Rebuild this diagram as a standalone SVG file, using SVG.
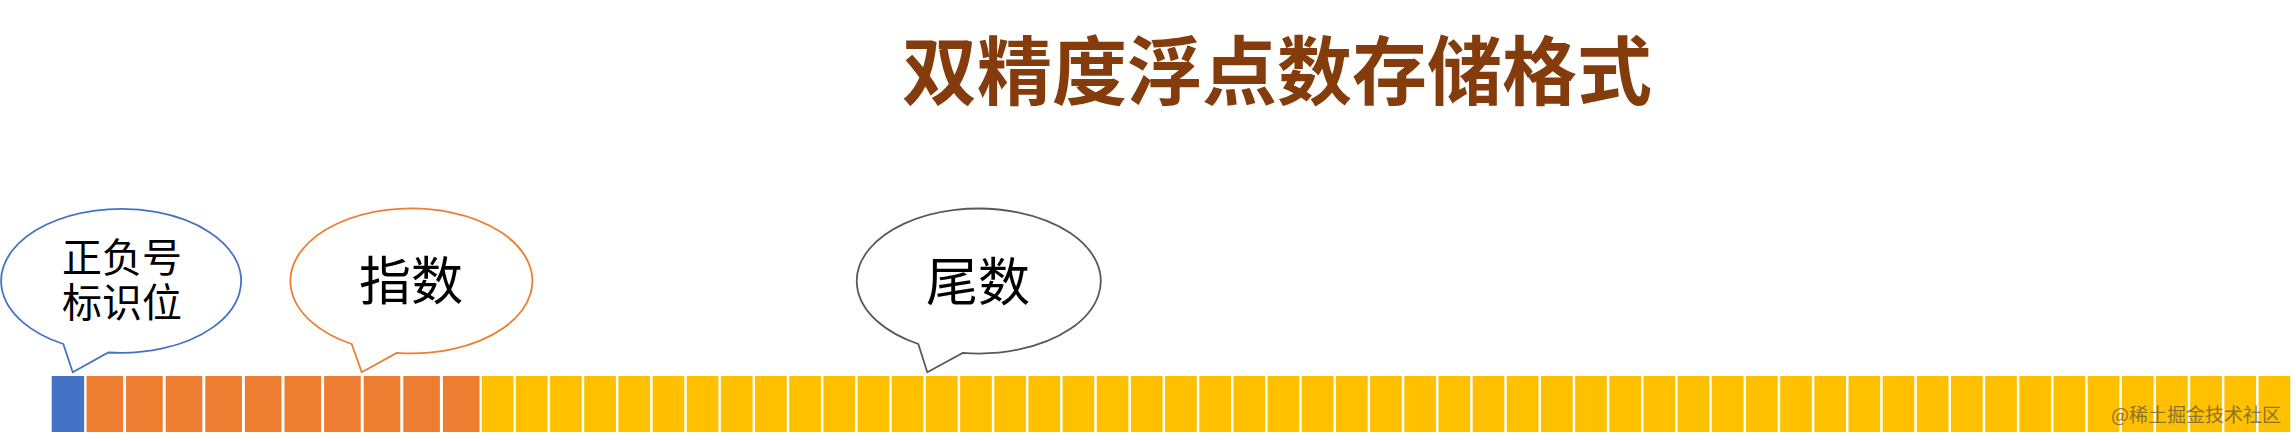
<svg xmlns="http://www.w3.org/2000/svg" width="2296" height="441" viewBox="0 0 2296 441">
<style>
text{font-family:"Noto Sans CJK SC","Noto Sans",sans-serif;}
.title{font-size:75px;font-weight:bold;fill:#843C0C;}
.lbl{fill:#000;}
.bub{fill:#fff;stroke-width:1.8;stroke-linejoin:miter;}
.s{fill:#4472C4;}
.e{fill:#ED7D31;}
.m{fill:#FFC000;}
.wm{font-size:19px;fill:#4a4a4a;opacity:0.65;}
</style>
<rect width="2296" height="441" fill="#fff"/>
<text class="title" x="1277" y="99" text-anchor="middle">双精度浮点数存储格式</text>
<g id="bubble-sign">
<path class="bub" stroke="#4472C4" d="M63.3,344 L72.7,372.3 L108.3,352.5 A120 72 0 1 0 63.3,344 Z"/>
<text class="lbl" font-size="40" text-anchor="middle"><tspan x="122" y="272">正负号</tspan><tspan x="122" y="317">标识位</tspan></text>
</g>
<g id="bubble-exponent">
<path class="bub" stroke="#ED7D31" d="M351.7,344 L361.7,372.3 L396.7,352.9 A121 72.5 0 1 0 351.7,344 Z"/>
<text class="lbl" x="411" y="300" font-size="52" text-anchor="middle">指数</text>
</g>
<g id="bubble-mantissa">
<path class="bub" stroke="#595959" d="M918.3,344 L927.3,372.3 L962.7,352.9 A122 72.5 0 1 0 918.3,344 Z"/>
<text class="lbl" x="978" y="301" font-size="52" text-anchor="middle">尾数</text>
</g>
<g id="bits">
<rect class="s" x="51.7" y="376" width="32.5" height="56"/>
<rect class="e" x="86.5" y="376" width="36.6" height="56"/>
<rect class="e" x="126.1" y="376" width="36.6" height="56"/>
<rect class="e" x="165.7" y="376" width="36.6" height="56"/>
<rect class="e" x="205.3" y="376" width="36.6" height="56"/>
<rect class="e" x="244.9" y="376" width="36.6" height="56"/>
<rect class="e" x="284.5" y="376" width="36.6" height="56"/>
<rect class="e" x="324.1" y="376" width="36.6" height="56"/>
<rect class="e" x="363.7" y="376" width="36.6" height="56"/>
<rect class="e" x="403.3" y="376" width="36.6" height="56"/>
<rect class="e" x="442.9" y="376" width="36.6" height="56"/>
<rect class="m" x="481.7" y="376" width="31.7" height="56"/>
<rect class="m" x="515.87" y="376" width="31.7" height="56"/>
<rect class="m" x="550.04" y="376" width="31.7" height="56"/>
<rect class="m" x="584.21" y="376" width="31.7" height="56"/>
<rect class="m" x="618.38" y="376" width="31.7" height="56"/>
<rect class="m" x="652.55" y="376" width="31.7" height="56"/>
<rect class="m" x="686.72" y="376" width="31.7" height="56"/>
<rect class="m" x="720.89" y="376" width="31.7" height="56"/>
<rect class="m" x="755.06" y="376" width="31.7" height="56"/>
<rect class="m" x="789.23" y="376" width="31.7" height="56"/>
<rect class="m" x="823.4" y="376" width="31.7" height="56"/>
<rect class="m" x="857.57" y="376" width="31.7" height="56"/>
<rect class="m" x="891.74" y="376" width="31.7" height="56"/>
<rect class="m" x="925.91" y="376" width="31.7" height="56"/>
<rect class="m" x="960.08" y="376" width="31.7" height="56"/>
<rect class="m" x="994.25" y="376" width="31.7" height="56"/>
<rect class="m" x="1028.42" y="376" width="31.7" height="56"/>
<rect class="m" x="1062.59" y="376" width="31.7" height="56"/>
<rect class="m" x="1096.76" y="376" width="31.7" height="56"/>
<rect class="m" x="1130.93" y="376" width="31.7" height="56"/>
<rect class="m" x="1165.1" y="376" width="31.7" height="56"/>
<rect class="m" x="1199.27" y="376" width="31.7" height="56"/>
<rect class="m" x="1233.44" y="376" width="31.7" height="56"/>
<rect class="m" x="1267.61" y="376" width="31.7" height="56"/>
<rect class="m" x="1301.78" y="376" width="31.7" height="56"/>
<rect class="m" x="1335.95" y="376" width="31.7" height="56"/>
<rect class="m" x="1370.12" y="376" width="31.7" height="56"/>
<rect class="m" x="1404.29" y="376" width="31.7" height="56"/>
<rect class="m" x="1438.46" y="376" width="31.7" height="56"/>
<rect class="m" x="1472.63" y="376" width="31.7" height="56"/>
<rect class="m" x="1506.8" y="376" width="31.7" height="56"/>
<rect class="m" x="1540.97" y="376" width="31.7" height="56"/>
<rect class="m" x="1575.14" y="376" width="31.7" height="56"/>
<rect class="m" x="1609.31" y="376" width="31.7" height="56"/>
<rect class="m" x="1643.48" y="376" width="31.7" height="56"/>
<rect class="m" x="1677.65" y="376" width="31.7" height="56"/>
<rect class="m" x="1711.82" y="376" width="31.7" height="56"/>
<rect class="m" x="1745.99" y="376" width="31.7" height="56"/>
<rect class="m" x="1780.16" y="376" width="31.7" height="56"/>
<rect class="m" x="1814.33" y="376" width="31.7" height="56"/>
<rect class="m" x="1848.5" y="376" width="31.7" height="56"/>
<rect class="m" x="1882.67" y="376" width="31.7" height="56"/>
<rect class="m" x="1916.84" y="376" width="31.7" height="56"/>
<rect class="m" x="1951.01" y="376" width="31.7" height="56"/>
<rect class="m" x="1985.18" y="376" width="31.7" height="56"/>
<rect class="m" x="2019.35" y="376" width="31.7" height="56"/>
<rect class="m" x="2053.52" y="376" width="31.7" height="56"/>
<rect class="m" x="2087.69" y="376" width="31.7" height="56"/>
<rect class="m" x="2121.86" y="376" width="31.7" height="56"/>
<rect class="m" x="2156.03" y="376" width="31.7" height="56"/>
<rect class="m" x="2190.2" y="376" width="31.7" height="56"/>
<rect class="m" x="2224.37" y="376" width="31.7" height="56"/>
<rect class="m" x="2258.54" y="376" width="31.7" height="56"/>
</g>
<text class="wm" x="2281" y="422" text-anchor="end">@稀土掘金技术社区</text>
</svg>
